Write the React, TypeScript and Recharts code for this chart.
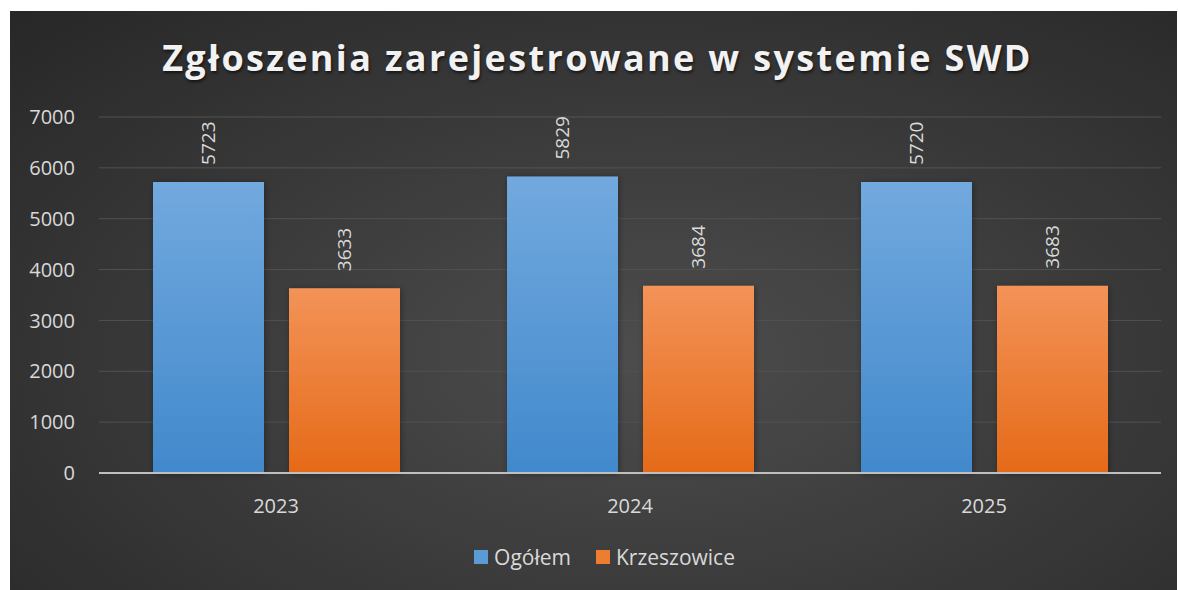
import { BarChart, Bar, XAxis, YAxis, CartesianGrid, LabelList, ReferenceLine } from 'recharts'

const YEARS = ['2023', '2024', '2025']
const OGOLEM = [5723, 5829, 5720]
const KRZESZOWICE = [3633, 3684, 3683]
const Y_TICKS = [0, 1000, 2000, 3000, 4000, 5000, 6000, 7000]

const TITLE = 'Zgłoszenia zarejestrowane w systemie SWD'
const FONT = '"Open Sans", sans-serif'
const TEXT_COLOR = '#d9d9d9'

const data = YEARS.map((year, i) => ({
  year,
  ogolem: OGOLEM[i],
  krzeszowice: KRZESZOWICE[i],
}))

function RotatedLabel(props: any) {
  const { x, y, width, value } = props
  const cx = Number(x) + Number(width) / 2
  const cy = Number(y) - 17
  return (
    <text
      x={cx}
      y={cy}
      transform={`rotate(-90 ${cx} ${cy})`}
      textAnchor="start"
      dominantBaseline="central"
      fill={TEXT_COLOR}
      fontFamily={FONT}
      fontSize={19}
    >
      {value}
    </text>
  )
}

function LegendItem({ color, label }: { color: string; label: string }) {
  return (
    <div style={{ display: 'flex', alignItems: 'center', gap: 6 }}>
      <div style={{ width: 14, height: 14, background: color }} />
      <span>{label}</span>
    </div>
  )
}

export default function App() {
  return (
    <div style={{ width: 1178, height: 590, background: '#fff', overflow: 'hidden' }}>
      <style>{'body { margin: 0; }'}</style>
      <div
        style={{
          position: 'relative',
          width: 1167,
          height: 579,
          marginLeft: 10,
          top: 11,
          background: 'radial-gradient(ellipse at 55% 60%, #4d4d4d 0%, #3c3c3c 45%, #272727 100%)',
          fontFamily: FONT,
        }}
      >
        <div
          style={{
            position: 'absolute',
            top: 29,
            left: 4,
            width: 1167,
            textAlign: 'center',
            fontSize: 36,
            lineHeight: '36px',
            fontWeight: 700,
            letterSpacing: 2.35,
            color: '#f2f2f2',
            textShadow: '1px 2px 3px rgba(0,0,0,0.6)',
          }}
        >
          {TITLE}
        </div>
        <BarChart
          width={1167}
          height={579}
          data={data}
          margin={{ top: 106, right: 16, left: 0, bottom: 0 }}
          barCategoryGap={54}
          barGap={25}
        >
          <defs>
            <linearGradient id="gBlue" x1="0" y1="0" x2="0" y2="1">
              <stop offset="0%" stopColor="#72a9de" />
              <stop offset="100%" stopColor="#4189cc" />
            </linearGradient>
            <linearGradient id="gOrange" x1="0" y1="0" x2="0" y2="1">
              <stop offset="0%" stopColor="#f39358" />
              <stop offset="100%" stopColor="#e56a18" />
            </linearGradient>
            <filter id="barShadow" x="-20%" y="-20%" width="140%" height="140%">
              <feDropShadow dx="1" dy="1" stdDeviation="3" floodColor="#000" floodOpacity="0.35" />
            </filter>
          </defs>
          <CartesianGrid vertical={false} stroke="#525252" strokeWidth={1} />
          <XAxis
            dataKey="year"
            height={117}
            axisLine={false}
            tickLine={false}
            tickSize={0}
            tickMargin={26}
            tick={{ fill: TEXT_COLOR, fontFamily: FONT, fontSize: 20 }}
          />
          <YAxis
            width={89}
            domain={[0, 7000]}
            ticks={Y_TICKS}
            axisLine={false}
            tickLine={false}
            tickSize={0}
            tickMargin={24}
            tick={{ fill: TEXT_COLOR, fontFamily: FONT, fontSize: 20 }}
          />
          <Bar dataKey="ogolem" name="Ogółem" fill="url(#gBlue)" filter="url(#barShadow)" isAnimationActive={false}>
            <LabelList dataKey="ogolem" content={RotatedLabel} />
          </Bar>
          <Bar dataKey="krzeszowice" name="Krzeszowice" fill="url(#gOrange)" filter="url(#barShadow)" isAnimationActive={false}>
            <LabelList dataKey="krzeszowice" content={RotatedLabel} />
          </Bar>
          <ReferenceLine y={0} stroke="#bfbfbf" strokeWidth={2} />
        </BarChart>
        <div
          style={{
            position: 'absolute',
            top: 532,
            left: 11,
            width: 1167,
            display: 'flex',
            justifyContent: 'center',
            gap: 25,
            color: TEXT_COLOR,
            fontSize: 21,
          }}
        >
          <LegendItem color="#5b9bd5" label="Ogółem" />
          <LegendItem color="#ed7d31" label="Krzeszowice" />
        </div>
      </div>
    </div>
  )
}
